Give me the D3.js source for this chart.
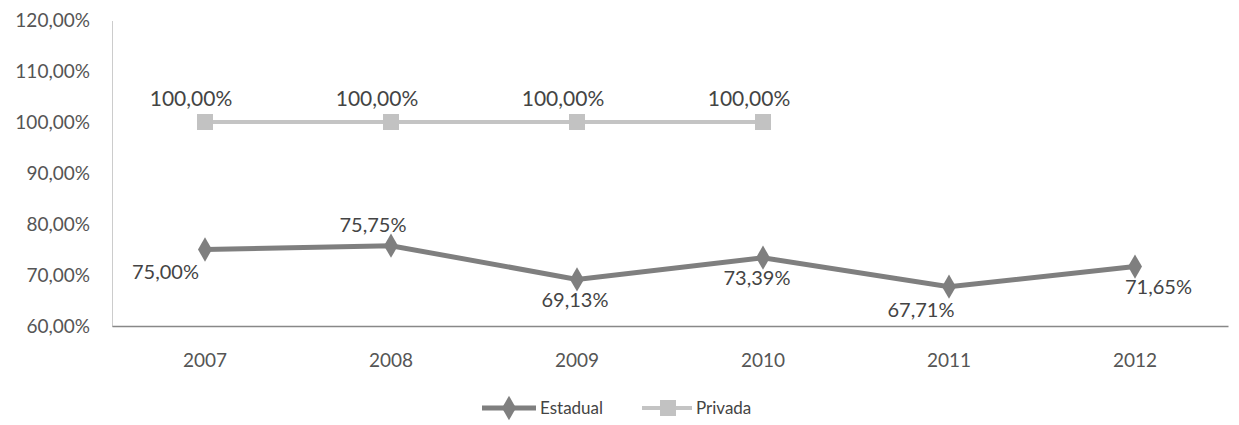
<!DOCTYPE html>
<html><head><meta charset="utf-8">
<script src="https://cdn.jsdelivr.net/npm/d3@7/dist/d3.min.js"></script>
<style>body{margin:0;background:#fff;}svg{display:block;font-family:Lato,"Open Sans",sans-serif;}</style>
</head><body><svg id="c" width="1239" height="425"></svg>
<script>
const years = ["2007","2008","2009","2010","2011","2012"];
const estadual = [75.00, 75.75, 69.13, 73.39, 67.71, 71.65];
const privada = [100.00, 100.00, 100.00, 100.00];
const yTicks = [60,70,80,90,100,110,120];
const seriesNames = ["Estadual","Privada"];
// label placement per point: [dx, dy, anchor]
const estLabelPos = [[-6,29,"end"],[-18,-14,"middle"],[-2,28,"middle"],[-6,27,"middle"],[-28,30,"middle"],[-10,27,"start"]];

const svg = d3.select("#c");
const x = d3.scaleBand().domain(years).range([112,1228]);
const y = d3.scaleLinear().domain([60,120]).range([326,20]);
const fmt = v => v.toFixed(2).replace(".", ",") + "%";

// axes
const yAx = svg.append("g").attr("transform","translate(112,0)")
  .call(d3.axisLeft(y).tickValues(yTicks).tickSize(0).tickPadding(22).tickFormat(fmt));
yAx.select(".domain").attr("stroke","#999").attr("stroke-dasharray","1,1");
yAx.selectAll("text").attr("font-size",19).attr("fill","#555").attr("font-family","Lato,sans-serif");

const xAx = svg.append("g").attr("transform","translate(0,326)")
  .call(d3.axisBottom(x).tickSize(0).tickPadding(28));
xAx.select(".domain").attr("stroke","#888").attr("stroke-width",1.5);
xAx.selectAll("text").attr("font-size",19).attr("fill","#555").attr("font-family","Lato,sans-serif");

const cx = d => x(d) + x.bandwidth()/2;
const line = d3.line().x(d=>cx(d.k)).y(d=>y(d.v));

const estData = years.map((k,i)=>({k, v: estadual[i]}));
const priData = privada.map((v,i)=>({k: years[i], v}));

// Privada
svg.append("path").datum(priData).attr("d",line).attr("fill","none")
  .attr("stroke","#c4c4c4").attr("stroke-width",4);
svg.selectAll(".sq").data(priData).join("rect")
  .attr("x",d=>cx(d.k)-8).attr("y",d=>y(d.v)-8).attr("width",16).attr("height",16)
  .attr("fill","#c2c2c2");
svg.selectAll(".pl").data(priData).join("text")
  .attr("x",d=>cx(d.k)-14).attr("y",d=>y(d.v)-16).attr("text-anchor","middle")
  .attr("font-size",21).attr("fill","#444").text(d=>fmt(d.v));

// Estadual
svg.append("path").datum(estData).attr("d",line).attr("fill","none")
  .attr("stroke","#7f7f7f").attr("stroke-width",5);
const diamond = d3.symbol().type(d3.symbolDiamond).size(170);
svg.selectAll(".dm").data(estData).join("path")
  .attr("d",diamond).attr("transform",d=>`translate(${cx(d.k)},${y(d.v)})`)
  .attr("fill","#7f7f7f");
svg.selectAll(".el").data(estData).join("text")
  .attr("x",(d,i)=>cx(d.k)+estLabelPos[i][0]).attr("y",(d,i)=>y(d.v)+estLabelPos[i][1])
  .attr("text-anchor",(d,i)=>estLabelPos[i][2])
  .attr("font-size",20).attr("fill","#444").text(d=>fmt(d.v));

// legend
const lg = svg.append("g").attr("transform","translate(482,408)");
lg.append("line").attr("x1",0).attr("x2",54).attr("stroke","#7f7f7f").attr("stroke-width",5);
lg.append("path").attr("d",diamond).attr("transform","translate(27,0)").attr("fill","#7f7f7f");
lg.append("text").attr("x",58).attr("y",6).attr("font-size",17).attr("fill","#444").text(seriesNames[0]);
lg.append("line").attr("x1",160).attr("x2",210).attr("stroke","#c4c4c4").attr("stroke-width",4);
lg.append("rect").attr("x",178).attr("y",-8).attr("width",16).attr("height",16).attr("fill","#c2c2c2");
lg.append("text").attr("x",214).attr("y",6).attr("font-size",17).attr("fill","#444").text(seriesNames[1]);
</script></body></html>
